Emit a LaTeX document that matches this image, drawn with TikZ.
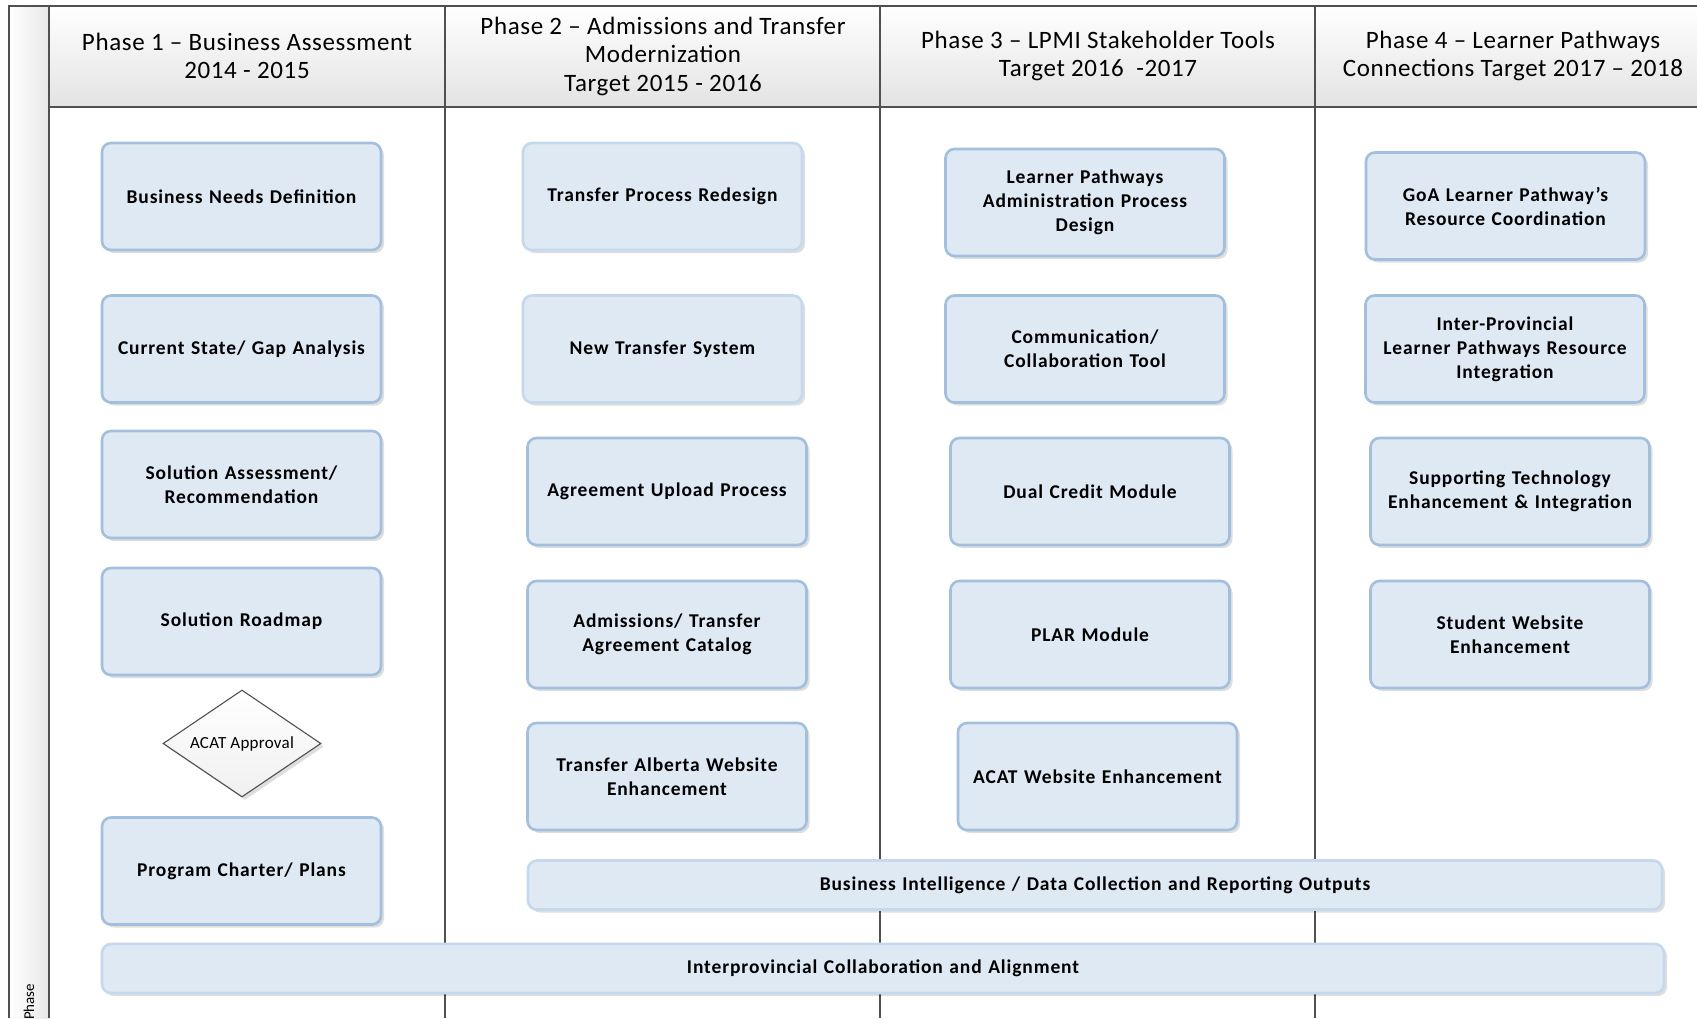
\documentclass[tikz,border=0pt]{standalone}
\usepackage{fontspec}
\setmainfont{Carlito}
\newfontfamily\taskfont[LetterSpace=4.5]{Carlito}
\newfontfamily\headfont[LetterSpace=2.5]{Carlito}
\newfontfamily\notefont[LetterSpace=1.5]{Carlito}
\usetikzlibrary{shapes.geometric,shadows}

\definecolor{laneline}{HTML}{505050}
\definecolor{taskfill}{HTML}{DFE9F3}
\definecolor{taskedge}{HTML}{A2C0DD}
\definecolor{taskedgelight}{HTML}{C6D8EB}

\tikzset{
  taskbox/.style={draw=taskedge, line width=2.6pt, fill=taskfill,
    rounded corners=9pt, minimum width=279pt, minimum height=107pt,
    text width=272pt, align=center, inner sep=0pt,
    font=\taskfont\bfseries\fontsize{19.5}{24}\selectfont,
    drop shadow={shadow xshift=3pt, shadow yshift=-3pt, fill=black, opacity=0.13}},
  taskboxlight/.style={taskbox, draw=taskedgelight},
  bandbox/.style={taskbox, draw=taskedgelight, minimum height=49pt, text width=1000pt},
  decision/.style={diamond, draw=laneline, line width=1.1pt,
    top color=white, bottom color=black!6, minimum width=158pt,
    minimum height=107pt, inner sep=0pt, shape aspect=1.48,
    font=\notefont\fontsize{17}{20}\selectfont,
    drop shadow={shadow xshift=3pt, shadow yshift=-3pt, fill=black, opacity=0.13}},
  phasehead/.style={align=center, font=\headfont\fontsize{25}{28.5}\selectfont, inner sep=0pt},
  lane/.style={draw=laneline, line width=1.5pt}
}

\begin{document}
\begin{tikzpicture}[x=1pt, y=-1pt]
\useasboundingbox (0,0) rectangle (1697,1018);
\fill[white] (0,0) rectangle (1697,1018);

% swimlane frame: header band and left title strip
\shade[top color=white, bottom color=black!11] (49,6) rectangle (1697,107);
\shade[left color=white, right color=black!9] (9,6) rectangle (49,1018);

\draw[lane] (9,1018) -- (9,6) -- (1697,6);
\draw[lane] (49,6) -- (49,1018);
\draw[lane] (49,107) -- (1697,107);
\draw[lane] (445,6) -- (445,1018);
\draw[lane] (880,6) -- (880,1018);
\draw[lane] (1315,6) -- (1315,1018);

\node[rotate=90, anchor=base west, font=\fontsize{15}{17}\selectfont, inner sep=0pt] (lanetitle) at (34,1020) {Phase};

% phase headers
\node[phasehead] (h1) at (247,56) {Phase 1 – Business Assessment\\2014 - 2015};
\node[phasehead] (h2) at (663,56) {Phase 2 – Admissions and Transfer\\Modernization\\Target 2015 - 2016};
\node[phasehead] (h3) at (1098,56) {Phase 3 – LPMI Stakeholder Tools\\Target 2016 \ -2017};
\node[phasehead] (h4) at (1513,56) {Phase 4 – Learner Pathways\\Connections Target 2017 – 2018};

% phase 1
\node[taskbox] (p1a) at (241.5,196.5) {Business Needs Definition};
\node[taskbox] (p1b) at (241.5,349) {Current State/ Gap Analysis};
\node[taskbox] (p1c) at (241.5,484.5) {Solution Assessment/\\Recommendation};
\node[taskbox] (p1d) at (241.5,621.5) {Solution Roadmap};
\node[decision] (p1e) at (242,743.5) {ACAT Approval};
\node[taskbox] (p1f) at (241.5,871) {Program Charter/ Plans};

% phase 2
\node[taskboxlight] (p2a) at (662.5,196.5) {Transfer Process Redesign};
\node[taskboxlight] (p2b) at (662.5,349) {New Transfer System};
\node[taskbox] (p2c) at (667,491.5) {Agreement Upload Process};
\node[taskbox] (p2d) at (667,634.5) {Admissions/ Transfer\\Agreement Catalog};
\node[taskbox] (p2e) at (667,776.5) {Transfer Alberta Website\\Enhancement};

% phase 3
\node[taskbox] (p3a) at (1085,202.5) {Learner Pathways\\Administration Process\\Design};
\node[taskbox] (p3b) at (1085,349) {Communication/\\Collaboration Tool};
\node[taskbox] (p3c) at (1090,491.5) {Dual Credit Module};
\node[taskbox] (p3d) at (1090,634.5) {PLAR Module};
\node[taskbox] (p3e) at (1097.5,776.5) {ACAT Website Enhancement};

% phase 4
\node[taskbox] (p4a) at (1505.5,206) {GoA Learner Pathway’s\\Resource Coordination};
\node[taskbox] (p4b) at (1505,349) {Inter-Provincial\\Learner Pathways Resource\\Integration};
\node[taskbox] (p4c) at (1510,491.5) {Supporting Technology\\Enhancement \& Integration};
\node[taskbox] (p4d) at (1510,634.5) {Student Website\\Enhancement};

% cross-phase bands
\node[bandbox, minimum width=1134pt] (bi) at (1095,885) {Business Intelligence / Data Collection and Reporting Outputs};
\node[bandbox, minimum width=1562pt] (ipc) at (883,968.5) {Interprovincial Collaboration and Alignment};
\end{tikzpicture}
\end{document}
